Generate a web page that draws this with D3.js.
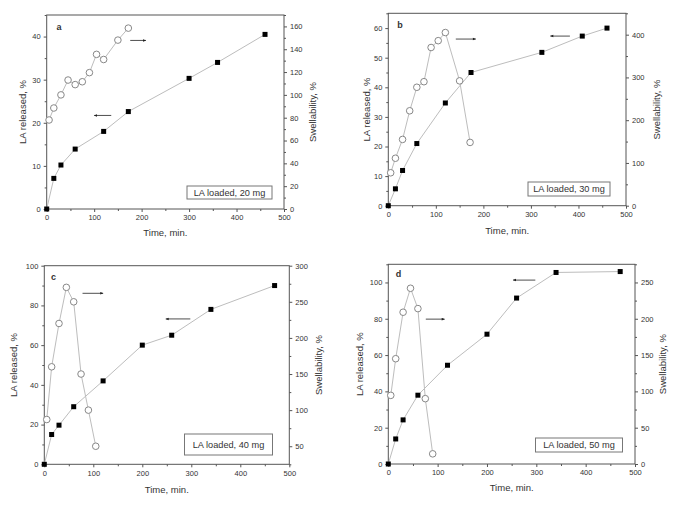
<!DOCTYPE html>
<html>
<head>
<meta charset="utf-8">
<script src="https://cdn.jsdelivr.net/npm/d3@7"></script>
<style>
  body { margin: 0; background: #fff; }
  text { font-family: "Liberation Sans", Arial, sans-serif; fill: #333; }
</style>
</head>
<body>
<svg id="chart" width="675" height="507"></svg>
<script>
// ---- data ----
const releaseTimeA = [0, 15, 30, 60, 120, 172, 300, 360, 460];
const releaseA     = [0, 7.1, 10.2, 13.9, 18.0, 22.6, 30.3, 34.0, 40.5];
const swellTimeA   = [5, 15, 30, 45, 60, 75, 90, 105, 120, 150, 172];
const swellA       = [78, 88.5, 100, 113, 109, 111.5, 119.5, 135.5, 131, 148, 158.5];

const releaseTimeB = [0, 15, 30, 60, 120, 174, 323, 408, 460];
const releaseB     = [0, 5.7, 11.9, 21.0, 34.7, 45.0, 51.8, 57.3, 60.0];
const swellTimeB   = [5, 15, 30, 45, 60, 75, 90, 105, 120, 150, 172];
const swellB       = [77, 111, 155, 222, 277, 290, 370, 386, 405, 292, 148];

const releaseTimeC = [0, 15, 30, 60, 120, 200, 260, 340, 470];
const releaseC     = [0, 15, 19.7, 29, 42, 60, 65, 78, 90];
const swellTimeC   = [5, 15, 30, 45, 60, 75, 90, 105];
const swellC       = [87, 160, 220, 270, 250, 150, 100, 50];

const releaseTimeD = [0, 15, 30, 60, 120, 200, 260, 340, 470];
const releaseD     = [0, 13.8, 24.3, 37.9, 54.4, 71.5, 91.4, 105.5, 106];
const swellTimeD   = [5, 15, 30, 45, 60, 75, 90];
const swellD       = [94.5, 145, 209, 242, 214, 90, 14];

const panelLetters = ["a", "b", "c", "d"];
const legendLabels = ["LA loaded, 20 mg", "LA loaded, 30 mg", "LA loaded, 40 mg", "LA loaded, 50 mg"];
const xTickValues = [0, 100, 200, 300, 400, 500];
const xLabel = "Time, min.";
const yLeftLabel = "LA released, %";
const yRightLabel = "Swellability, %";

// ---- panels (layout) ----
const panels = [
  { frame: [46.7, 15, 284, 209], leftDom: [0, 45], leftStep: 10, rightDom: [0, 170], rightStep: 20,
    rt: releaseTimeA, rv: releaseA, st: swellTimeA, sv: swellA,
    arrowR: [176, 209, 39.1], arrowL: [100, 136, 21.7],
    box: [187, 186, 85, 13], letter: [59, 27], titles: [23, 313, 233] },
  { frame: [388.3, 13.3, 626, 205.7], leftDom: [0, 65], leftStep: 10, rightDom: [0, 450], rightStep: 100,
    rt: releaseTimeB, rv: releaseB, st: swellTimeB, sv: swellB,
    arrowR: [142, 184, 56.3], arrowL: [341, 382, 57.3],
    box: [528, 182, 82, 14], letter: [400, 25], titles: [366.7, 657, 231] },
  { frame: [44.3, 265.7, 289.3, 464.3], leftDom: [0, 100], leftStep: 20, rightDom: [25, 300], rightStep: 50,
    rt: releaseTimeC, rv: releaseC, st: swellTimeC, sv: swellC,
    arrowR: [78, 120, 86.1], arrowL: [248, 298, 73.2],
    box: [184.5, 434, 88, 21], letter: [53.5, 277], titles: [13.5, 318.5, 490] },
  { frame: [388.3, 264.3, 635, 464], leftDom: [0, 110], leftStep: 20, rightDom: [0, 275], rightStep: 50,
    rt: releaseTimeD, rv: releaseD, st: swellTimeD, sv: swellD,
    arrowR: [76, 114, 79.8], arrowL: [253, 298, 101.3],
    box: [535.5, 438, 87, 14], letter: [398.5, 273.5], titles: [360, 663, 488] }
];

const svg = d3.select("#chart");
const defs = svg.append("defs");
defs.append("marker").attr("id", "ah").attr("viewBox", "0 0 10 10")
  .attr("refX", 9).attr("refY", 5).attr("markerWidth", 5).attr("markerHeight", 4)
  .attr("orient", "auto-start-reverse")
  .append("path").attr("d", "M0,1 L10,5 L0,9 Z").attr("fill", "#222");

const axisColor = "#555";

panels.forEach((p, i) => {
  const [x0, y0, x1, y1] = p.frame;
  const g = svg.append("g");
  const x = d3.scaleLinear().domain([0, 500]).range([x0, x1]);
  const yL = d3.scaleLinear().domain(p.leftDom).range([y1, y0]);
  const yR = d3.scaleLinear().domain(p.rightDom).range([y1, y0]);

  // frame
  g.append("rect").attr("x", x0).attr("y", y0).attr("width", x1 - x0).attr("height", y1 - y0)
    .attr("fill", "none").attr("stroke", axisColor).attr("stroke-width", 1);

  function styleAxis(sel) {
    sel.select(".domain").remove();
    sel.selectAll(".tick line").attr("stroke", axisColor);
    sel.selectAll(".tick text").attr("font-size", "7.5px").attr("fill", "#333")
      .attr("font-family", "Liberation Sans, Arial, sans-serif");
  }
  function minor(sel) {
    sel.selectAll(".tick text").remove();
    sel.select(".domain").remove();
    sel.selectAll(".tick line").attr("stroke", axisColor);
  }

  // x axis
  const xMinor = d3.range(50, 500, 100);
  g.append("g").attr("transform", `translate(0,${y1})`)
    .call(d3.axisBottom(x).tickValues(xMinor).tickSize(2)).call(minor);
  g.append("g").attr("transform", `translate(0,${y1})`)
    .call(d3.axisBottom(x).tickValues(xTickValues).tickSize(3).tickPadding(3).tickFormat(d3.format("d")))
    .call(styleAxis);

  // left axis
  const lTicks = d3.range(p.leftDom[0], p.leftDom[1] + 0.001, p.leftStep).filter(v => v <= p.leftDom[1]);
  const lMinor = d3.range(p.leftDom[0] + p.leftStep / 2, p.leftDom[1] + 0.001, p.leftStep);
  g.append("g").attr("transform", `translate(${x0},0)`)
    .call(d3.axisLeft(yL).tickValues(lMinor).tickSize(2)).call(minor);
  g.append("g").attr("transform", `translate(${x0},0)`)
    .call(d3.axisLeft(yL).tickValues(lTicks).tickSize(3).tickPadding(3).tickFormat(d3.format("d")))
    .call(styleAxis);

  // right axis
  const rStart = Math.ceil(p.rightDom[0] / p.rightStep) * p.rightStep;
  const rTicks = d3.range(rStart, p.rightDom[1] + 0.001, p.rightStep);
  const rMinor = d3.range(rStart - p.rightStep / 2, p.rightDom[1] + 0.001, p.rightStep)
    .filter(v => v >= p.rightDom[0]);
  g.append("g").attr("transform", `translate(${x1},0)`)
    .call(d3.axisRight(yR).tickValues(rMinor).tickSize(2)).call(minor);
  g.append("g").attr("transform", `translate(${x1},0)`)
    .call(d3.axisRight(yR).tickValues(rTicks).tickSize(3).tickPadding(3).tickFormat(d3.format("d")))
    .call(styleAxis);

  // lines
  const relData = p.rt.map((t, k) => [t, p.rv[k]]);
  const swData = p.st.map((t, k) => [t, p.sv[k]]);
  const lineL = d3.line().x(d => x(d[0])).y(d => yL(d[1]));
  const lineR = d3.line().x(d => x(d[0])).y(d => yR(d[1]));
  g.append("path").datum(swData).attr("d", lineR).attr("fill", "none")
    .attr("stroke", "#bdbdbd").attr("stroke-width", 1);
  g.append("path").datum(relData).attr("d", lineL).attr("fill", "none")
    .attr("stroke", "#bdbdbd").attr("stroke-width", 1);

  g.selectAll(".sq").data(relData).enter().append("rect")
    .attr("x", d => x(d[0]) - 2.5).attr("y", d => yL(d[1]) - 2.5)
    .attr("width", 5).attr("height", 5).attr("fill", "#000");
  g.selectAll(".ci").data(swData).enter().append("circle")
    .attr("cx", d => x(d[0])).attr("cy", d => yR(d[1])).attr("r", 3.3)
    .attr("fill", "#fff").attr("stroke", "#888").attr("stroke-width", 1);

  // arrows
  g.append("line").attr("x1", x(p.arrowR[0])).attr("x2", x(p.arrowR[1]))
    .attr("y1", yL(p.arrowR[2])).attr("y2", yL(p.arrowR[2]))
    .attr("stroke", "#222").attr("stroke-width", 0.8).attr("marker-end", "url(#ah)");
  g.append("line").attr("x1", x(p.arrowL[1])).attr("x2", x(p.arrowL[0]))
    .attr("y1", yL(p.arrowL[2])).attr("y2", yL(p.arrowL[2]))
    .attr("stroke", "#222").attr("stroke-width", 0.8).attr("marker-end", "url(#ah)");

  // legend box
  const [bx, by, bw, bh] = p.box;
  g.append("rect").attr("x", bx).attr("y", by).attr("width", bw).attr("height", bh)
    .attr("fill", "#fff").attr("stroke", "#777").attr("stroke-width", 1);
  g.append("text").attr("x", bx + bw / 2).attr("y", by + bh / 2 + 3.3)
    .attr("text-anchor", "middle").attr("font-size", "9.2px").text(legendLabels[i]);

  // panel letter
  g.append("text").attr("x", p.letter[0]).attr("y", p.letter[1] + 3)
    .attr("text-anchor", "middle").attr("font-size", "9px").attr("font-weight", "bold")
    .attr("fill", "#444").text(panelLetters[i]);

  // titles
  const [lx, rx, ty] = p.titles;
  const cy = (y0 + y1) / 2;
  g.append("text").attr("transform", `translate(${lx},${cy}) rotate(-90)`)
    .attr("text-anchor", "middle").attr("dy", "0.35em").attr("font-size", "9.5px").text(yLeftLabel);
  g.append("text").attr("transform", `translate(${rx},${cy}) rotate(-90)`)
    .attr("text-anchor", "middle").attr("dy", "0.35em").attr("font-size", "9.5px").text(yRightLabel);
  g.append("text").attr("x", (x0 + x1) / 2).attr("y", ty).attr("dy", "0.35em")
    .attr("text-anchor", "middle").attr("font-size", "9.5px").text(xLabel);
});
</script>
</body>
</html>
